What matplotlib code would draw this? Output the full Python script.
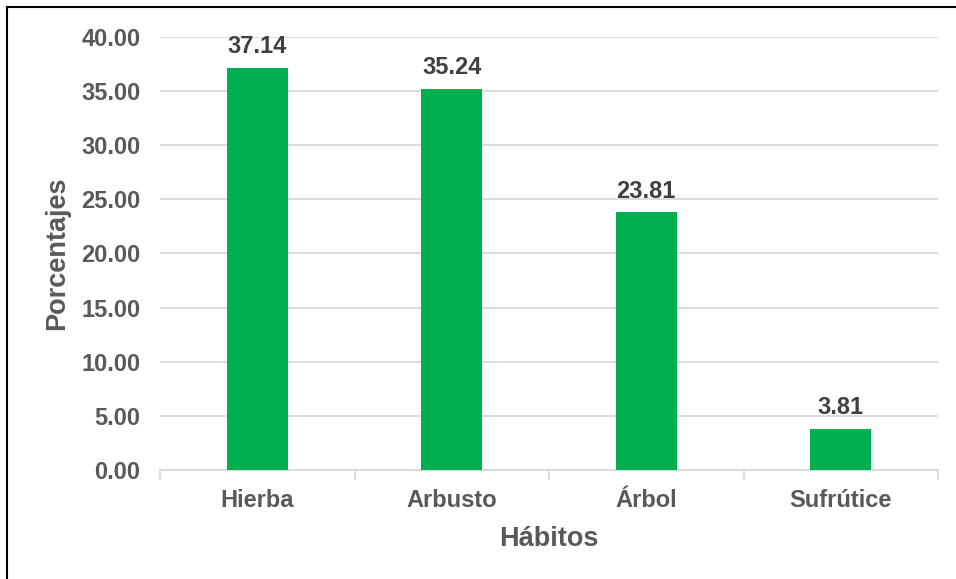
import matplotlib
matplotlib.use("Agg")
import matplotlib.pyplot as plt
from matplotlib.patches import Rectangle

plt.rcParams['font.family'] = ['Liberation Sans', 'DejaVu Sans']

habitos = ["Hierba", "Arbusto", "Árbol", "Sufrútice"]
porcentajes = [37.14, 35.24, 23.81, 3.81]
y_ticks = [0, 5, 10, 15, 20, 25, 30, 35, 40]

text_gray = "#595959"
label_dark = "#404040"
bar_green = "#00B050"
grid_gray = "#D9D9D9"

fig = plt.figure(figsize=(9.56, 5.79), dpi=100)
ax = fig.add_axes([160 / 956, 1 - 470 / 579, (938 - 160) / 956, (470 - 37) / 579])

x = list(range(len(habitos)))
bars = ax.bar(x, porcentajes, width=0.315, color=bar_green, zorder=3)

for xi, v in zip(x, porcentajes):
    ax.annotate(f"{v:.2f}", (xi, v), xytext=(0, 7), textcoords="offset points",
                ha="center", va="bottom", fontsize=17, fontweight="bold",
                color=label_dark)

ax.set_xlim(-0.5, len(habitos) - 0.5)
ax.set_ylim(0, 40)
ax.set_yticks(y_ticks)
ax.set_yticklabels([f"{t:.2f}" for t in y_ticks])
ax.yaxis.grid(True, color=grid_gray, linewidth=1.3, zorder=0)
ax.set_axisbelow(True)

ax.set_xticks(x)
ax.set_xticklabels(habitos)
ax.set_xticks([i - 0.5 for i in range(len(habitos) + 1)], minor=True)
ax.tick_params(axis="x", which="major", length=0, pad=14)
ax.tick_params(axis="x", which="minor", length=7, width=1.3, color=grid_gray)
ax.tick_params(axis="y", length=0, pad=14)

for lbl in ax.get_xticklabels() + ax.get_yticklabels():
    lbl.set_fontsize(17)
    lbl.set_fontweight("bold")
    lbl.set_color(text_gray)

for side in ["top", "right", "left"]:
    ax.spines[side].set_visible(False)
ax.spines["bottom"].set_color(grid_gray)
ax.spines["bottom"].set_linewidth(1.3)

ax.set_xlabel("Hábitos", fontsize=19.5, fontweight="bold", color=text_gray, labelpad=10)
ax.set_ylabel("Porcentajes", fontsize=19.5, fontweight="bold", color=text_gray, labelpad=8)

# outer frame of the chart area
fig.patches.append(Rectangle((7 / 956, -0.05), 1.2, 1 - 7 / 579 + 0.05,
                             transform=fig.transFigure, fill=False,
                             edgecolor="black", linewidth=1.5))

fig.savefig("out.png", dpi=100)
